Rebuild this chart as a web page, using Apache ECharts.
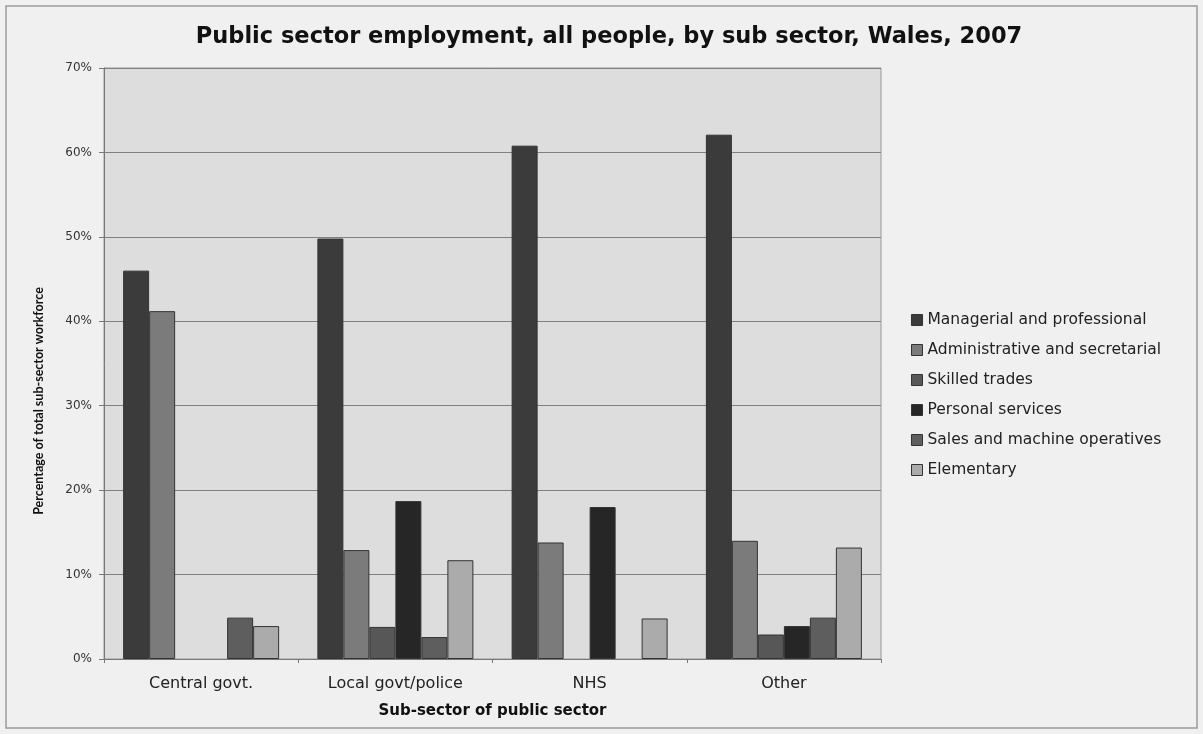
<!DOCTYPE html>
<html>
<head>
<meta charset="utf-8">
<script src="https://cdn.jsdelivr.net/npm/echarts@6/dist/echarts.min.js"></script>
<style>
html,body{margin:0;padding:0;background:#f0f0f0;}
#chart{width:1203px;height:734px;}
</style>
</head>
<body>
<div id="chart"></div>
<script>
// Sub-sectors and occupation groups (percent of sub-sector workforce)
const categories = ['Central govt.', 'Local govt/police', 'NHS', 'Other'];
const managerial = [46.0, 49.8, 60.8, 62.1];
const administrative = [41.2, 12.9, 13.8, 14.0];
const skilledTrades = [0, 3.8, 0, 2.9];
const personalServices = [0, 18.7, 18.0, 3.9];
const salesMachine = [4.9, 2.6, 0, 4.9];
const elementary = [3.9, 11.7, 4.8, 13.2];
const yTicks = [0, 10, 20, 30, 40, 50, 60, 70];

const seriesDefs = [
  ['Managerial and professional', managerial, '#3b3b3b'],
  ['Administrative and secretarial', administrative, '#7b7b7b'],
  ['Skilled trades', skilledTrades, '#575757'],
  ['Personal services', personalServices, '#262626'],
  ['Sales and machine operatives', salesMachine, '#5e5e5e'],
  ['Elementary', elementary, '#ababab']
];

const font = '"DejaVu Sans", sans-serif';
const chart = echarts.init(document.getElementById('chart'));
chart.setOption({
  backgroundColor: '#f0f0f0',
  animation: false,
  title: {
    text: 'Public sector employment, all people, by sub sector, Wales, 2007',
    left: 604, top: 21, textAlign: 'center',
    textStyle: {fontFamily: font, fontSize: 22.5, fontWeight: 'bold', color: '#111'}
  },
  graphic: [{
    type: 'rect', shape: {x: 6, y: 6, width: 1191, height: 722},
    style: {fill: 'none', stroke: '#9a9a9a', lineWidth: 1.5}, silent: true
  }, {
    // y-axis title, rotated, sitting a little below the plot's midline
    type: 'text', x: 39, y: 401, rotation: Math.PI / 2,
    style: {
      text: 'Percentage of total sub-sector workforce',
      font: 'bold 12.5px Lato, sans-serif', fill: '#111',
      align: 'center', verticalAlign: 'middle'
    },
    silent: true
  }],
  legend: {
    orient: 'vertical', left: 906, top: 307, itemGap: 14,
    itemWidth: 11, itemHeight: 11, icon: 'rect',
    itemStyle: {borderColor: '#333', borderWidth: 1},
    textStyle: {fontFamily: font, fontSize: 15.5, lineHeight: 16, color: '#222'},
    data: seriesDefs.map(s => s[0])
  },
  grid: {left: 104, right: 322, top: 68, bottom: 75, show: true,
         backgroundColor: '#dddddd', borderColor: '#999', borderWidth: 1},
  xAxis: {
    type: 'category', data: categories,
    name: 'Sub-sector of public sector', nameLocation: 'middle', nameGap: 45,
    nameTextStyle: {fontFamily: font, fontSize: 15, fontWeight: 'bold', color: '#111'},
    axisLine: {lineStyle: {color: '#777'}},
    axisTick: {show: true, length: 4, lineStyle: {color: '#777'}},
    axisLabel: {fontFamily: font, fontSize: 16, color: '#222', margin: 17}
  },
  yAxis: {
    type: 'value', min: yTicks[0], max: yTicks[yTicks.length - 1], interval: 10,
    axisLine: {show: true, lineStyle: {color: '#777'}},
    axisTick: {show: true, length: 5, inside: false, lineStyle: {color: '#777'}},
    axisLabel: {fontFamily: font, fontSize: 12, color: '#333', formatter: v => v + '%', margin: 12},
    splitLine: {lineStyle: {color: '#808080', width: 1.2}}
  },
  series: seriesDefs.map(([name, values, color]) => ({
    name, type: 'bar', barWidth: 26, barGap: '0%',
    // a zero share means no bar at all in that group
    data: values.map(v => (v === 0 ? null : v)),
    itemStyle: {color, borderColor: '#333', borderWidth: 1}
  }))
});
</script>
</body>
</html>
